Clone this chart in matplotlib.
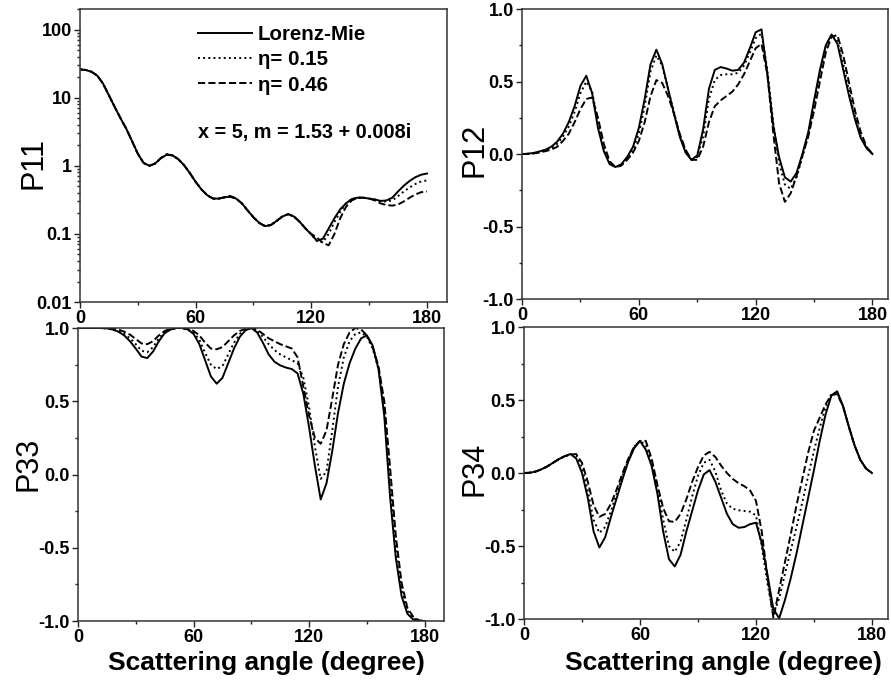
import numpy as np
import matplotlib
matplotlib.use('Agg')
import matplotlib.pyplot as plt
from matplotlib.ticker import FixedLocator, FormatStrFormatter, LogLocator, NullFormatter

plt.rcParams['font.family'] = ['Liberation Sans', 'DejaVu Sans']

# scattering angle grid (degree)
angle = np.arange(0, 181, 3)

# P11 (log scale)
p11_mie = [26, 25.5, 24, 21, 16, 10.8, 7.3, 5.0, 3.5, 2.3, 1.5, 1.1, 1.0, 1.08, 1.3, 1.45,
           1.42, 1.25, 1.02, 0.78, 0.58, 0.45, 0.37, 0.33, 0.33, 0.345, 0.35, 0.33, 0.28, 0.22,
           0.175, 0.145, 0.13, 0.135, 0.155, 0.18, 0.195, 0.18, 0.15, 0.12, 0.098, 0.079, 0.085,
           0.12, 0.17, 0.23, 0.28, 0.325, 0.34, 0.34, 0.33, 0.32, 0.305, 0.31, 0.34, 0.42, 0.51,
           0.60, 0.68, 0.74, 0.77]
p11_e15 = [26, 25.5, 24, 21, 16, 10.8, 7.3, 5.0, 3.5, 2.3, 1.5, 1.1, 1.0, 1.08, 1.3, 1.47,
           1.42, 1.25, 1.02, 0.78, 0.58, 0.45, 0.37, 0.33, 0.33, 0.345, 0.36, 0.33, 0.28, 0.22,
           0.175, 0.145, 0.13, 0.135, 0.155, 0.18, 0.195, 0.18, 0.15, 0.12, 0.098, 0.078, 0.076,
           0.10, 0.15, 0.21, 0.28, 0.325, 0.34, 0.34, 0.33, 0.32, 0.30, 0.30, 0.31, 0.36, 0.42,
           0.48, 0.54, 0.59, 0.61]
p11_e46 = [26, 25.5, 24, 21, 16, 10.8, 7.3, 5.0, 3.5, 2.3, 1.5, 1.1, 1.0, 1.08, 1.3, 1.48,
           1.42, 1.25, 1.02, 0.78, 0.58, 0.45, 0.37, 0.33, 0.33, 0.345, 0.36, 0.33, 0.28, 0.22,
           0.175, 0.145, 0.13, 0.135, 0.155, 0.18, 0.195, 0.18, 0.15, 0.12, 0.10, 0.088, 0.074,
           0.068, 0.10, 0.17, 0.25, 0.31, 0.34, 0.34, 0.33, 0.31, 0.28, 0.265, 0.26, 0.27, 0.30,
           0.34, 0.38, 0.41, 0.42]

# P12
p12_mie = [0.0, 0.002, 0.008, 0.018, 0.03, 0.05, 0.085, 0.14, 0.22, 0.33, 0.47, 0.54, 0.42,
           0.18, 0.02, -0.07, -0.09, -0.07, -0.02, 0.05, 0.18, 0.38, 0.62, 0.72, 0.62, 0.45,
           0.28, 0.12, 0.01, -0.04, -0.01, 0.17, 0.45, 0.58, 0.60, 0.59, 0.575, 0.58, 0.63,
           0.73, 0.84, 0.86, 0.55, 0.2, -0.02, -0.16, -0.19, -0.13, 0.0, 0.15, 0.37, 0.58,
           0.75, 0.825, 0.76, 0.58, 0.40, 0.24, 0.11, 0.04, 0.0]
p12_e15 = [0.0, 0.002, 0.007, 0.016, 0.027, 0.04, 0.07, 0.12, 0.19, 0.29, 0.42, 0.50, 0.43,
           0.22, 0.04, -0.06, -0.09, -0.075, -0.03, 0.03, 0.14, 0.33, 0.57, 0.68, 0.61, 0.45,
           0.29, 0.13, 0.02, -0.04, -0.02, 0.12, 0.38, 0.51, 0.545, 0.55, 0.55, 0.56, 0.61,
           0.70, 0.80, 0.83, 0.58, 0.22, -0.06, -0.21, -0.24, -0.16, -0.02, 0.13, 0.34, 0.55,
           0.74, 0.82, 0.78, 0.62, 0.43, 0.26, 0.12, 0.04, 0.0]
p12_e46 = [0.0, 0.001, 0.004, 0.01, 0.02, 0.03, 0.05, 0.09, 0.14, 0.22, 0.31, 0.38, 0.39,
           0.25, 0.07, -0.05, -0.09, -0.08, -0.04, 0.01, 0.09, 0.22, 0.40, 0.51, 0.49, 0.40,
           0.28, 0.14, 0.03, -0.04, -0.04, 0.05, 0.22, 0.33, 0.37, 0.40, 0.43, 0.48, 0.55,
           0.64, 0.73, 0.76, 0.55, 0.15, -0.20, -0.33, -0.27, -0.15, -0.01, 0.12, 0.30, 0.50,
           0.70, 0.81, 0.82, 0.68, 0.49, 0.30, 0.15, 0.05, 0.0]

# P33
p33_mie = [1.0, 1.0, 1.0, 1.0, 1.0, 0.998, 0.99, 0.975, 0.95, 0.91, 0.86, 0.805, 0.795, 0.84,
           0.91, 0.965, 0.99, 1.0, 1.0, 0.99, 0.96, 0.89, 0.78, 0.67, 0.62, 0.66, 0.76, 0.86,
           0.94, 0.985, 1.0, 0.97, 0.90, 0.82, 0.77, 0.745, 0.73, 0.72, 0.69, 0.55, 0.32, 0.06,
           -0.17, -0.06, 0.16, 0.42, 0.62, 0.76, 0.86, 0.93, 0.95, 0.88, 0.72, 0.40, -0.15,
           -0.57, -0.83, -0.95, -0.99, -1.0, -1.0]
p33_e15 = [1.0, 1.0, 1.0, 1.0, 1.0, 0.998, 0.99, 0.98, 0.96, 0.93, 0.89, 0.845, 0.835, 0.87,
           0.93, 0.97, 0.99, 1.0, 1.0, 0.99, 0.97, 0.92, 0.83, 0.75, 0.72, 0.74, 0.82, 0.90,
           0.96, 0.99, 1.0, 0.98, 0.94, 0.89, 0.85, 0.82, 0.80, 0.78, 0.76, 0.66, 0.46, 0.19,
           -0.03, 0.02, 0.30, 0.60, 0.80, 0.91, 0.96, 0.97, 0.94, 0.86, 0.72, 0.46, -0.05,
           -0.50, -0.78, -0.93, -0.98, -1.0, -1.0]
p33_e46 = [1.0, 1.0, 1.0, 1.0, 1.0, 0.999, 0.995, 0.99, 0.975, 0.955, 0.925, 0.895, 0.89,
           0.91, 0.95, 0.98, 0.995, 1.0, 1.0, 0.995, 0.98, 0.95, 0.90, 0.86, 0.855, 0.87, 0.91,
           0.95, 0.98, 0.995, 1.0, 0.99, 0.96, 0.93, 0.91, 0.89, 0.875, 0.86, 0.80, 0.60, 0.40,
           0.25, 0.21, 0.30, 0.52, 0.75, 0.89, 0.97, 1.0, 0.99, 0.95, 0.87, 0.74, 0.50, 0.05,
           -0.42, -0.74, -0.91, -0.97, -0.995, -1.0]

# P34
p34_mie = [0.0, 0.002, 0.01, 0.025, 0.045, 0.07, 0.095, 0.115, 0.13, 0.10, 0.0, -0.17, -0.40,
           -0.51, -0.44, -0.30, -0.17, -0.04, 0.08, 0.17, 0.22, 0.16, 0.05, -0.14, -0.40, -0.59,
           -0.64, -0.56, -0.40, -0.26, -0.12, -0.01, 0.02, -0.06, -0.17, -0.28, -0.35, -0.375,
           -0.37, -0.35, -0.34, -0.48, -0.70, -0.93, -0.995, -0.87, -0.72, -0.55, -0.36, -0.17,
           0.02, 0.22, 0.40, 0.53, 0.56, 0.46, 0.32, 0.19, 0.09, 0.03, 0.0]
p34_e15 = [0.0, 0.002, 0.01, 0.025, 0.045, 0.07, 0.095, 0.115, 0.13, 0.12, 0.04, -0.12, -0.32,
           -0.41, -0.37, -0.26, -0.14, -0.02, 0.09, 0.18, 0.22, 0.19, 0.07, -0.10, -0.32, -0.50,
           -0.54, -0.47, -0.32, -0.16, -0.02, 0.07, 0.09, 0.01, -0.12, -0.21, -0.245, -0.255,
           -0.26, -0.265, -0.29, -0.50, -0.76, -0.97, -0.86, -0.69, -0.53, -0.37, -0.20, -0.02,
           0.15, 0.31, 0.45, 0.54, 0.55, 0.46, 0.32, 0.19, 0.09, 0.03, 0.0]
p34_e46 = [0.0, 0.002, 0.01, 0.025, 0.045, 0.07, 0.095, 0.115, 0.125, 0.13, 0.07, -0.06, -0.22,
           -0.30, -0.28, -0.21, -0.11, 0.0, 0.10, 0.18, 0.22, 0.22, 0.10, -0.08, -0.24, -0.33,
           -0.335, -0.28, -0.18, -0.06, 0.04, 0.12, 0.145, 0.11, 0.05, 0.0, -0.04, -0.07, -0.09,
           -0.12, -0.19, -0.40, -0.72, -0.99, -0.80, -0.61, -0.42, -0.22, -0.04, 0.14, 0.29,
           0.38, 0.47, 0.535, 0.54, 0.46, 0.32, 0.19, 0.09, 0.03, 0.0]

labels = ['Lorenz-Mie', '\u03b7= 0.15', '\u03b7= 0.46']
styles = ['-', ':', '--']

fig = plt.figure(figsize=(8.91, 6.81), dpi=100)
ax1 = fig.add_axes([0.0898, 0.5565, 0.4119, 0.4302])
ax2 = fig.add_axes([0.5859, 0.5609, 0.4108, 0.4258])
ax3 = fig.add_axes([0.0875, 0.0881, 0.4108, 0.4302])
ax4 = fig.add_axes([0.5881, 0.0910, 0.4085, 0.4288])

panels = [(ax1, 'P11', [p11_mie, p11_e15, p11_e46], 190.4),
          (ax2, 'P12', [p12_mie, p12_e15, p12_e46], 188),
          (ax3, 'P33', [p33_mie, p33_e15, p33_e46], 190),
          (ax4, 'P34', [p34_mie, p34_e15, p34_e46], 188.3)]

for ax, name, series, xmax in panels:
    for vals, ls, lab in zip(series, styles, labels):
        ax.plot(angle, vals, color='black', linestyle=ls, linewidth=1.4, label=lab)
    ax.set_xlim(0, xmax)
    ax.xaxis.set_major_locator(FixedLocator([0, 60, 120, 180]))
    ax.xaxis.set_minor_locator(FixedLocator([30, 90, 150]))
    ax.tick_params(which='both', direction='out', top=False, right=False,
                   labelsize=13, width=1.0, colors='#222222', labelcolor='black')
    ax.tick_params(which='major', length=4, pad=2)
    ax.tick_params(which='minor', length=2.5)
    for sp in ax.spines.values():
        sp.set_linewidth(1.1)
        sp.set_color('#333333')
    ax.set_ylabel(name, fontsize=22)
    if name != 'P11':
        ax.set_ylim(-1, 1)
        ax.yaxis.set_major_locator(FixedLocator([-1, -0.5, 0, 0.5, 1.0]))
        ax.yaxis.set_minor_locator(FixedLocator([-0.75, -0.25, 0.25, 0.75]))
        ax.yaxis.set_major_formatter(FormatStrFormatter('%.1f'))

ax1.set_yscale('log')
ax1.set_ylim(0.01, 200)
ax1.set_yticks([0.01, 0.1, 1, 10, 100])
ax1.set_yticklabels(['0.01', '0.1', '1', '10', '100'])
ax1.yaxis.set_minor_locator(LogLocator(base=10, subs=np.arange(2, 10)))
ax1.yaxis.set_minor_formatter(NullFormatter())

for ax in (ax1, ax2, ax3, ax4):
    for lbl in ax.get_xticklabels() + ax.get_yticklabels():
        lbl.set_fontweight('bold')

ax1.yaxis.set_label_coords(-0.085, 0.474)
ax2.yaxis.set_label_coords(-0.09, 0.514)
ax3.yaxis.set_label_coords(-0.095, 0.536)
ax4.yaxis.set_label_coords(-0.095, 0.514)

leg = ax1.legend(loc='upper left', bbox_to_anchor=(0.322, 0.945), frameon=False,
                 prop={'size': 14.8, 'weight': 'bold'}, handlelength=2.6,
                 handletextpad=0.3, labelspacing=0.3, borderpad=0, borderaxespad=0)
ax1.text(0.322, 0.577, 'x = 5, m = 1.53 + 0.008i', transform=ax1.transAxes,
         fontsize=14.3, fontweight='bold', va='center', ha='left')

ax3.set_xlabel('Scattering angle (degree)', fontsize=19, fontweight='bold')
ax4.set_xlabel('Scattering angle (degree)', fontsize=19, fontweight='bold')
ax3.xaxis.set_label_coords(0.515, -0.103)
ax4.xaxis.set_label_coords(0.548, -0.108)

fig.savefig('out.png', dpi=100)
